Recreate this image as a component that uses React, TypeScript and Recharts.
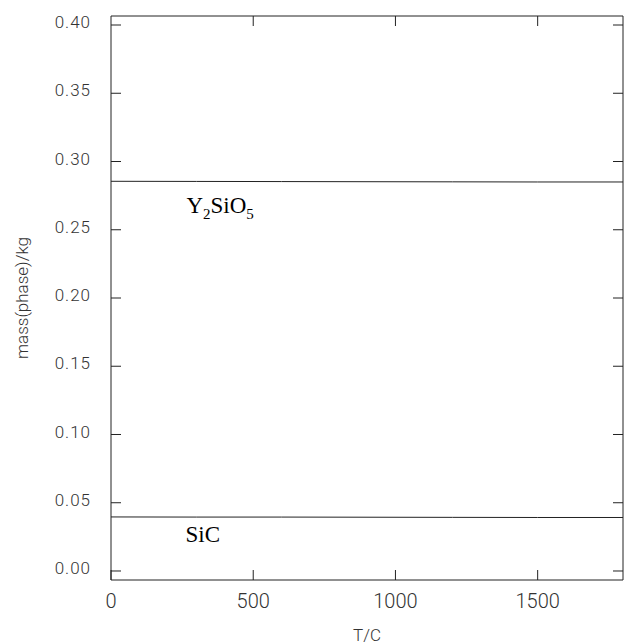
import React from 'react';
import { LineChart, Line, XAxis, YAxis, ReferenceDot, Label } from 'recharts';

const temps = [0, 300, 600, 900, 1200, 1500, 1800];
const y2sio5 = [0.2855, 0.2854, 0.2853, 0.2852, 0.2851, 0.2850, 0.2850];
const sic = [0.0396, 0.0395, 0.0395, 0.0394, 0.0393, 0.0392, 0.0392];
const xTicks = [0, 500, 1000, 1500];
const yTicks = [0, 0.05, 0.1, 0.15, 0.2, 0.25, 0.3, 0.35, 0.4];
const phaseLabels = [
  { name: 'Y2SiO5', x: 265, y: 0.262 },
  { name: 'SiC', x: 262, y: 0.0215 },
];

const data = temps.map((t, i) => ({ t, y2sio5: y2sio5[i], sic: sic[i] }));

const xTickFont = { fontFamily: 'Roboto', fontWeight: 300, fontSize: 20, fill: '#333' };
const yTickFont = { fontFamily: 'Roboto', fontWeight: 300, fontSize: 17, fill: '#333', letterSpacing: 1, dy: -3 };

const PhaseText = (props: any) => {
  const { viewBox, value } = props;
  const x = viewBox.x;
  const y = viewBox.y;
  const style = { fontFamily: '"Liberation Serif", "Times New Roman", serif', fontSize: 23, fill: '#000' };
  if (value === 'Y2SiO5') {
    return (
      <text x={x} y={y} style={style}>
        <tspan>Y</tspan>
        <tspan dy={6} fontSize={15}>2</tspan>
        <tspan dy={-6}>SiO</tspan>
        <tspan dy={6} fontSize={15}>5</tspan>
      </text>
    );
  }
  return (
    <text x={x} y={y} style={style}>
      {value}
    </text>
  );
};

export default function App() {
  return (
    <div style={{ position: 'absolute', left: 0, top: 0, background: '#fff' }}>
      <LineChart width={627} height={644} data={data} margin={{ top: 15, right: 3, bottom: 0, left: 0 }}>
        <XAxis
          dataKey="t"
          type="number"
          domain={[0, 1800]}
          ticks={xTicks}
          xAxisId="bottom"
          height={64}
          tickSize={-10}
          tickMargin={24}
          axisLine={{ stroke: '#222' }}
          tickLine={{ stroke: '#222' }}
          tick={xTickFont}
          allowDataOverflow
        >
          <Label value="T/C" position="insideBottom" offset={3} style={{ fontFamily: 'Roboto', fontWeight: 300, fontSize: 17, fill: '#333' }} />
        </XAxis>
        <XAxis
          dataKey="t"
          type="number"
          domain={[0, 1800]}
          ticks={[500, 1000, 1500]}
          xAxisId="top"
          orientation="top"
          height={1}
          tickSize={-10}
          tickFormatter={() => ''}
          axisLine={{ stroke: '#222' }}
          tickLine={{ stroke: '#222' }}
          allowDataOverflow
        />
        <YAxis
          yAxisId="left"
          type="number"
          domain={[-0.0066, 0.4066]}
          ticks={yTicks}
          width={111}
          tickSize={-10}
          tickMargin={30}
          tickFormatter={(v: number) => v.toFixed(2)}
          axisLine={{ stroke: '#222' }}
          tickLine={{ stroke: '#222' }}
          tick={yTickFont}
          allowDataOverflow
        >
          <Label
            value="mass(phase)/kg"
            angle={-90}
            position="insideLeft"
            offset={22}
            style={{ textAnchor: 'middle', fontFamily: 'Roboto', fontWeight: 300, fontSize: 17, fill: '#333' }}
          />
        </YAxis>
        <YAxis
          yAxisId="right"
          orientation="right"
          type="number"
          domain={[-0.0066, 0.4066]}
          ticks={yTicks}
          width={1}
          tickSize={-10}
          tickFormatter={() => ''}
          axisLine={{ stroke: '#222' }}
          tickLine={{ stroke: '#222' }}
          allowDataOverflow
        />
        <Line xAxisId="bottom" yAxisId="left" dataKey="y2sio5" stroke="#222" strokeWidth={1} dot={false} isAnimationActive={false} />
        <Line xAxisId="bottom" yAxisId="left" dataKey="sic" stroke="#222" strokeWidth={1} dot={false} isAnimationActive={false} />
        {phaseLabels.map((p) => (
          <ReferenceDot
            key={p.name}
            xAxisId="bottom"
            yAxisId="left"
            x={p.x}
            y={p.y}
            r={0}
            fill="none"
            stroke="none"
            label={<PhaseText value={p.name} />}
          />
        ))}
      </LineChart>
    </div>
  );
}
